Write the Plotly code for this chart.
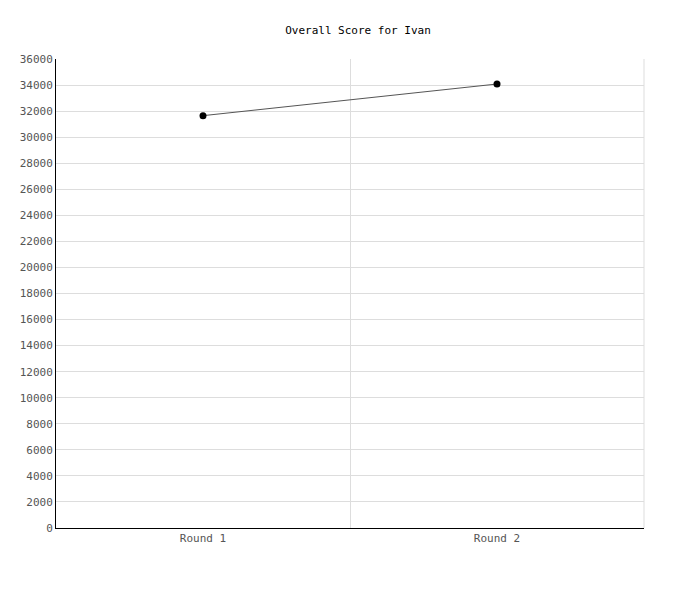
import plotly.graph_objs as go

# Chart data
rounds = ["Round 1", "Round 2"]
scores = [31650, 34080]
y_ticks = list(range(0, 36001, 2000))

fig = go.Figure()

fig.add_trace(go.Scatter(
    x=rounds, y=scores, mode="lines+markers",
    line=dict(color="#555555", width=1),
    marker=dict(color="black", size=7),
    showlegend=False,
))

# page body adds ~8px offset, margins compensate
fig.update_layout(
    width=700, height=600,
    margin=dict(l=48, r=64, t=51, b=80),
    paper_bgcolor="white", plot_bgcolor="white",
    font=dict(family="DejaVu Sans Mono", size=11, color="#555555"),
    title=dict(text="Overall Score for Ivan", x=0.5, xanchor="center",
               y=1 - 22 / 600, yanchor="middle",
               font=dict(family="DejaVu Sans Mono", size=11, color="black")),
)

fig.update_xaxes(
    type="category", range=[-0.5, 1.5], tickson="boundaries",
    showgrid=True, gridcolor="#dddddd", gridwidth=1,
    showline=True, linecolor="black", linewidth=1,
    ticks="", ticklen=0,
)
fig.update_yaxes(
    range=[0, 36000], tickvals=y_ticks, tickformat="d",
    showgrid=True, gridcolor="#dddddd", gridwidth=1,
    showline=True, linecolor="black", linewidth=1,
    zeroline=False, ticks="",
)

# right border as a light line
fig.add_shape(type="line", xref="paper", yref="paper", x0=1, x1=1, y0=0, y1=1,
              line=dict(color="#dddddd", width=1))

fig.write_html("out.html")
